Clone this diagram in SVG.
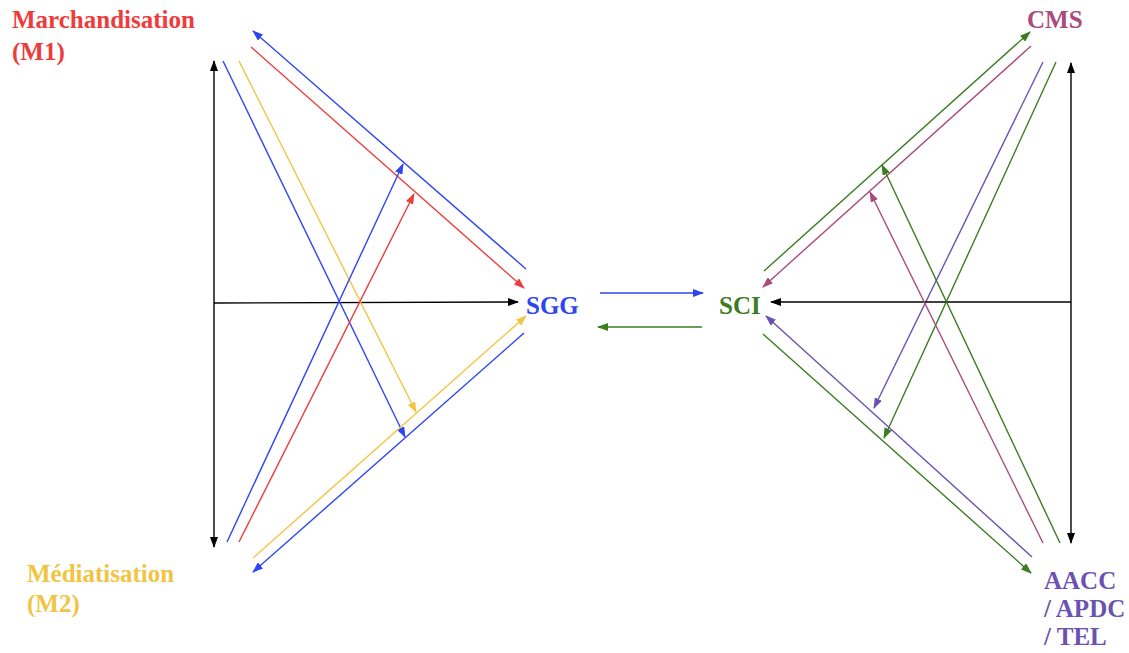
<svg xmlns="http://www.w3.org/2000/svg" width="1129" height="653" viewBox="0 0 1129 653">
<style>
text{font-family:"Liberation Serif","Times New Roman",serif;font-weight:bold;font-size:25px}
.c line{fill:none;stroke-width:1.4}
.k{stroke:#000}
.b{stroke:#2E45F2}
.r{stroke:#EE3B3B}
.y{stroke:#F2C443}
.g{stroke:#3C7C22}
.m{stroke:#A84C7A}
.p{stroke:#6B52B2}
</style>
<defs>
<marker id="ak" markerUnits="userSpaceOnUse" markerWidth="11" markerHeight="8" refX="10" refY="4" orient="auto-start-reverse"><path d="M0,0 L11,4 L0,8 z" fill="#000"/></marker>
<marker id="ab" markerUnits="userSpaceOnUse" markerWidth="11" markerHeight="8" refX="10" refY="4" orient="auto"><path d="M0,0 L11,4 L0,8 z" fill="#2E45F2"/></marker>
<marker id="ar" markerUnits="userSpaceOnUse" markerWidth="11" markerHeight="8" refX="10" refY="4" orient="auto"><path d="M0,0 L11,4 L0,8 z" fill="#EE3B3B"/></marker>
<marker id="ay" markerUnits="userSpaceOnUse" markerWidth="11" markerHeight="8" refX="10" refY="4" orient="auto"><path d="M0,0 L11,4 L0,8 z" fill="#F2C443"/></marker>
<marker id="ag" markerUnits="userSpaceOnUse" markerWidth="11" markerHeight="8" refX="10" refY="4" orient="auto"><path d="M0,0 L11,4 L0,8 z" fill="#3C7C22"/></marker>
<marker id="am" markerUnits="userSpaceOnUse" markerWidth="11" markerHeight="8" refX="10" refY="4" orient="auto"><path d="M0,0 L11,4 L0,8 z" fill="#A84C7A"/></marker>
<marker id="ap" markerUnits="userSpaceOnUse" markerWidth="11" markerHeight="8" refX="10" refY="4" orient="auto"><path d="M0,0 L11,4 L0,8 z" fill="#6B52B2"/></marker>
</defs>
<g id="connectors" class="c">
<line class="k" x1="214" y1="61" x2="214" y2="547" stroke-width="2" marker-start="url(#ak)" marker-end="url(#ak)"/>
<line class="k" x1="214" y1="303" x2="518" y2="302" stroke-width="1.8" marker-end="url(#ak)"/>
<line class="b" x1="223" y1="61" x2="405" y2="437" marker-end="url(#ab)"/>
<line class="y" x1="239" y1="61" x2="416" y2="412" marker-end="url(#ay)"/>
<line class="b" x1="526" y1="269" x2="253" y2="31" marker-end="url(#ab)"/>
<line class="r" x1="251" y1="47" x2="524" y2="288" marker-end="url(#ar)"/>
<line class="b" x1="227" y1="542" x2="403" y2="164" marker-end="url(#ab)"/>
<line class="r" x1="239" y1="542" x2="414" y2="194" marker-end="url(#ar)"/>
<line class="y" x1="253" y1="558" x2="526" y2="316" marker-end="url(#ay)"/>
<line class="b" x1="524" y1="333" x2="253" y2="572" marker-end="url(#ab)"/>
<line class="b" x1="600" y1="293" x2="703" y2="293" marker-end="url(#ab)"/>
<line class="g" x1="702" y1="327" x2="598" y2="327" marker-end="url(#ag)"/>
<line class="g" x1="764" y1="271" x2="1030" y2="32" marker-end="url(#ag)"/>
<line class="m" x1="1031" y1="46" x2="763" y2="287" marker-end="url(#am)"/>
<line class="p" x1="1043" y1="62" x2="874" y2="408" marker-end="url(#ap)"/>
<line class="g" x1="1056" y1="62" x2="884" y2="438" marker-end="url(#ag)"/>
<line class="k" x1="1071" y1="63" x2="1071" y2="543" stroke-width="2" marker-start="url(#ak)" marker-end="url(#ak)"/>
<line class="k" x1="1071" y1="302" x2="771" y2="302" stroke-width="1.8" marker-end="url(#ak)"/>
<line class="m" x1="1043" y1="543" x2="870" y2="192" marker-end="url(#am)"/>
<line class="g" x1="1060" y1="543" x2="882" y2="165" marker-end="url(#ag)"/>
<line class="p" x1="1032" y1="557" x2="766" y2="316" marker-end="url(#ap)"/>
<line class="g" x1="763" y1="334" x2="1031" y2="573" marker-end="url(#ag)"/>
</g>
<g id="m1"><text x="12" y="28" fill="#EE3B3B">Marchandisation</text><text x="12" y="60" fill="#EE3B3B">(M1)</text></g>
<g id="m2"><text x="27" y="582" fill="#F2C443">Médiatisation</text><text x="27" y="612" fill="#F2C443">(M2)</text></g>
<g id="sgg"><text x="526" y="314" fill="#2E45F2">SGG</text></g>
<g id="sci"><text x="719" y="314" fill="#3C7C22">SCI</text></g>
<g id="cms"><text x="1027" y="28" fill="#A84C7A">CMS</text></g>
<g id="aacc"><text x="1044" y="589" fill="#6B52B2">AACC</text><text x="1044" y="617" fill="#6B52B2">/ APDC</text><text x="1044" y="645" fill="#6B52B2">/ TEL</text></g>
</svg>
